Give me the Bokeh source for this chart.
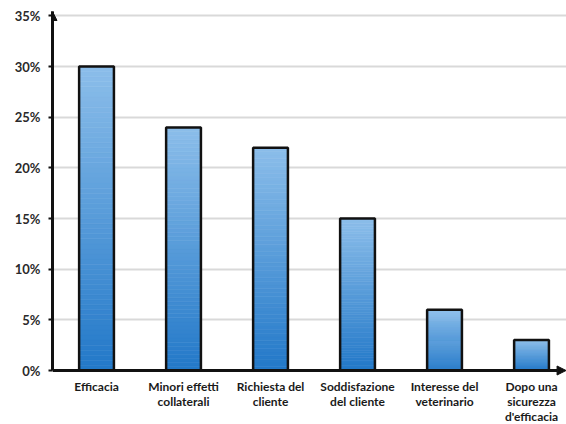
from bokeh.plotting import figure
from bokeh.models import Range1d, FixedTicker, NumeralTickFormatter, Arrow, NormalHead
from bokeh.core.properties import value
from bokeh.embed import file_html
from bokeh.resources import INLINE

# Data
categories = ["Efficacia", "Minori effetti\ncollaterali", "Richiesta del\ncliente",
              "Soddisfazione\ndel cliente", "Interesse del\nveterinario",
              "Dopo una\nsicurezza\nd'efficacia"]
values = [0.30, 0.24, 0.22, 0.15, 0.06, 0.03]
y_ticks = [0, 0.05, 0.10, 0.15, 0.20, 0.25, 0.30, 0.35]

X_START, X_END = -0.506, 5.402
Y_START, Y_END = -0.0533, 0.3544   # space below zero holds the category names
BAR_W = 0.40

p = figure(width=566, height=424, output_backend="svg", toolbar_location=None,
           x_range=Range1d(X_START, X_END), y_range=Range1d(Y_START, Y_END),
           min_border_left=52, min_border_right=0, min_border_top=11,
           min_border_bottom=0)
p.outline_line_color = None
p.background_fill_color = "white"
p.border_fill_color = "white"

# Vertical gradient on each bar: light at the top, deeper blue at the bottom
top_rgb = (0x8c, 0xbe, 0xea)
bot_rgb = (0x22, 0x78, 0xc8)
n = 60
xs_l, xs_r, bts, tps, cols = [], [], [], [], []
for i, v in enumerate(values):
    for k in range(n):
        t = (k + 0.5) / n  # 0 at bottom, 1 at top
        r, g, b = (int(round(bot_rgb[j] + (top_rgb[j] - bot_rgb[j]) * t)) for j in range(3))
        xs_l.append(i - BAR_W / 2)
        xs_r.append(i + BAR_W / 2)
        bts.append(v * k / n)
        tps.append(v * (k + 1) / n)
        cols.append("#%02x%02x%02x" % (r, g, b))
p.quad(left=xs_l, right=xs_r, bottom=bts, top=tps, fill_color=cols,
       line_color=cols, line_width=0.6)

# Bar outlines
idx = list(range(len(values)))
p.quad(left=[i - BAR_W / 2 for i in idx], right=[i + BAR_W / 2 for i in idx],
       bottom=0, top=values, fill_color=None, line_color="#111111", line_width=2.5)

# Category names under the baseline
p.text(x=idx, y=[-0.008] * len(idx), text=categories,
       text_align="center", text_baseline="top",
       text_font=value("Lato"), text_font_style="bold",
       text_font_size="12px", text_color="#1a1a1a", text_line_height=1.0)

# Axes: the x axis is a plain baseline with an arrow head
p.xaxis.visible = False
p.add_layout(Arrow(end=NormalHead(size=9, fill_color="#111111", line_color="#111111"),
                   x_start=X_START, y_start=0, x_end=X_END - 0.005, y_end=0,
                   line_width=3, line_color="#111111"))

p.yaxis.bounds = (0, Y_END)
p.yaxis.ticker = FixedTicker(ticks=y_ticks)
p.yaxis.formatter = NumeralTickFormatter(format="0%")
p.yaxis.minor_tick_line_color = None
p.yaxis.axis_line_width = 3
p.yaxis.axis_line_color = "#111111"
p.yaxis.major_tick_line_width = 2
p.yaxis.major_tick_line_color = "#111111"
p.yaxis.major_tick_out = 4
p.yaxis.major_tick_in = 0
p.yaxis.major_label_text_font = "Lato"
p.yaxis.major_label_text_font_style = "bold"
p.yaxis.major_label_text_font_size = "13px"
p.yaxis.major_label_text_color = "#2a2a2a"
p.yaxis.major_label_standoff = 8

p.xgrid.grid_line_color = None
p.ygrid.ticker = FixedTicker(ticks=y_ticks[1:])
p.ygrid.grid_line_color = "#d9d9d9"
p.ygrid.grid_line_width = 2

p.add_layout(Arrow(end=NormalHead(size=9, fill_color="#111111", line_color="#111111"),
                   x_start=X_START, y_start=0.30, x_end=X_START, y_end=Y_END,
                   line_width=3, line_color="#111111"))

open("out.html", "w").write(file_html(p, INLINE))
